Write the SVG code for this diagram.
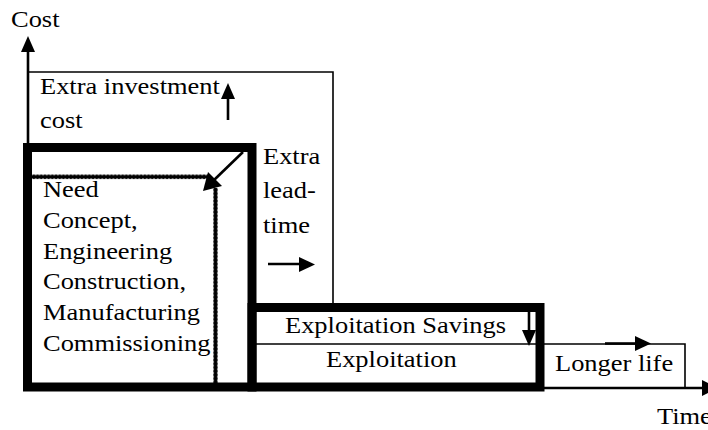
<svg xmlns="http://www.w3.org/2000/svg" width="708" height="430" viewBox="0 0 708 430">
<style>
  .t { font-family: 'Liberation Serif', 'DejaVu Serif', serif; font-size: 23px; fill: #000; }
  .thin { fill: none; stroke: #000; stroke-width: 1.6; }
  .thick { fill: none; stroke: #000; stroke-width: 9; }
  .arr { stroke: #000; stroke-width: 2.6; fill: none; }
  .head { fill: #000; stroke: none; }
</style>
<defs>
  <pattern id="dotsH" x="32" y="174.5" width="3.7" height="4.6" patternUnits="userSpaceOnUse">
    <circle cx="1.85" cy="2.3" r="2.2" fill="#000"/>
  </pattern>
  <pattern id="dotsV" x="213.2" y="188" width="4.6" height="3.7" patternUnits="userSpaceOnUse">
    <circle cx="2.3" cy="1.85" r="2.2" fill="#000"/>
  </pattern>
</defs>
<rect x="0" y="0" width="708" height="430" fill="#fff"/>

<g id="axes">
  <line class="arr" x1="28" y1="388" x2="28" y2="50" stroke-width="2"/>
  <polygon class="head" points="21,52 35,52 28,36"/>
  <line class="arr" x1="28" y1="388" x2="704" y2="388" stroke-width="2"/>
  <polygon class="head" points="702,380 702,396 718,388"/>
  <text class="t" transform="translate(11,27) scale(1.15,1)">Cost</text>
  <text class="t" transform="translate(657,424) scale(1.15,1)">Time</text>
</g>

<g id="extra-investment">
  <polyline class="thin" points="28,72 333,72 333,303"/>
  <text class="t" transform="translate(40,94) scale(1.15,1)">Extra investment</text>
  <text class="t" transform="translate(40,128) scale(1.15,1)">cost</text>
</g>

<g id="investment-phase">
  <rect class="thick" x="27.5" y="147.5" width="224.5" height="239.5"/>
  <rect x="32" y="174.5" width="177.6" height="4.6" fill="url(#dotsH)"/>
  <rect x="213.2" y="188" width="4.6" height="195" fill="url(#dotsV)"/>
  <text class="t" transform="translate(43,197) scale(1.15,1)">Need</text>
  <text class="t" transform="translate(43,228) scale(1.15,1)">Concept,</text>
  <text class="t" transform="translate(43,259) scale(1.15,1)">Engineering</text>
  <text class="t" transform="translate(43,289) scale(1.15,1)">Construction,</text>
  <text class="t" transform="translate(43,320) scale(1.15,1)">Manufacturing</text>
  <text class="t" transform="translate(43,351) scale(1.15,1)">Commissioning</text>
</g>

<g id="extra-lead-time">
  <text class="t" transform="translate(263,164) scale(1.15,1)">Extra</text>
  <text class="t" transform="translate(263,198) scale(1.15,1)">lead-</text>
  <text class="t" transform="translate(263,233) scale(1.15,1)">time</text>
</g>

<g id="exploitation">
  <rect class="thick" x="252" y="307.5" width="288" height="79.5"/>
  <line class="thin" x1="256" y1="344" x2="536" y2="344"/>
  <text class="t" transform="translate(285,333) scale(1.15,1)">Exploitation Savings</text>
  <text class="t" transform="translate(326,367) scale(1.15,1)">Exploitation</text>
</g>

<g id="longer-life">
  <polyline class="thin" points="544,344 685,344 685,388"/>
  <text class="t" transform="translate(555,371) scale(1.15,1)">Longer life</text>
</g>

<g id="connectors">
  <line class="arr" x1="243" y1="152" x2="213" y2="181" stroke-width="5"/>
  <polygon class="head" points="208,172 222,186 203,191"/>
  <line class="arr" x1="228" y1="120" x2="228" y2="96"/>
  <polygon class="head" points="221,99 235,99 228,83"/>
  <line class="arr" x1="268" y1="264" x2="301" y2="264"/>
  <polygon class="head" points="299,257 299,272 315,264.5"/>
  <line class="arr" x1="529" y1="311" x2="529" y2="332"/>
  <polygon class="head" points="522,330 536,330 529,346"/>
  <line class="arr" x1="605" y1="343.5" x2="637" y2="343.5"/>
  <polygon class="head" points="635,336 635,351 651,343.5"/>
</g>
</svg>
